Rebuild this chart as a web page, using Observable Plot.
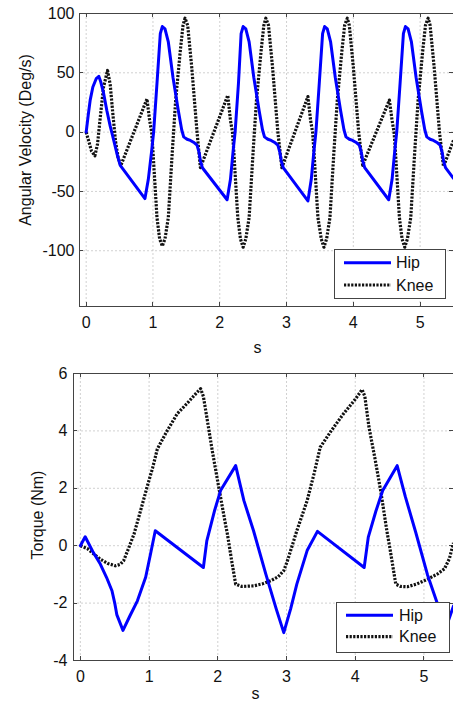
<!DOCTYPE html>
<html><head><meta charset="utf-8">
<script src="https://cdn.jsdelivr.net/npm/d3@7"></script>
<script src="https://cdn.jsdelivr.net/npm/@observablehq/plot@0.6"></script>
<style>
body{margin:0;background:#fff;}
#chart{width:453px;height:702px;font-family:"Liberation Sans",Arial,sans-serif;}
#chart svg{display:block;}
</style></head><body><div id="chart"></div>
<script>
// ---- Top panel: angular velocity (deg/s) ----
const hipVelT = [0,0.03,0.06,0.10,0.15,0.19,0.22,0.26,0.31,0.36,0.40,0.46,0.51,0.88,
0.93,0.98,1.01,1.06,1.11,1.14,1.18,1.23,1.30,1.38,1.43,1.46,1.51,1.56,1.62,1.66,1.69,1.71,1.74,2.11,
2.16,2.20,2.23,2.28,2.32,2.35,2.39,2.44,2.51,2.59,2.64,2.67,2.72,2.77,2.83,2.87,2.90,2.92,2.95,3.32,
3.37,3.41,3.44,3.49,3.54,3.57,3.61,3.66,3.73,3.81,3.86,3.89,3.94,3.99,4.05,4.09,4.12,4.14,4.17,4.53,
4.58,4.62,4.65,4.70,4.75,4.78,4.82,4.87,4.94,5.02,5.07,5.10,5.15,5.20,5.26,5.30,5.33,5.35,5.38,5.50];
const hipVelV = [0,14,27,38,45,47,42,33,18,5,-4,-18,-28,-56,
-40,-16,0,41,83,89,87,76,46,18,2,-4,-6,-7,-9,-11,-17,-24,-30,-57,
-40,-16,0,41,83,89,87,76,46,18,2,-4,-6,-7,-9,-11,-17,-24,-30,-58,
-40,-16,0,41,83,89,87,76,46,18,2,-4,-6,-7,-9,-11,-17,-24,-30,-57,
-40,-16,0,41,83,89,87,76,46,18,2,-4,-6,-7,-9,-11,-17,-24,-30,-39];
const kneeVelT = [0,0.04,0.08,0.13,0.17,0.21,0.26,0.32,0.36,0.40,0.44,0.48,0.52,0.91,
0.95,0.98,1.00,1.06,1.10,1.14,1.18,1.23,1.29,1.34,1.41,1.45,1.48,1.52,1.58,1.66,1.71,2.12,
2.16,2.19,2.21,2.27,2.31,2.35,2.39,2.44,2.50,2.55,2.62,2.66,2.69,2.73,2.79,2.87,2.93,3.32,
3.36,3.39,3.41,3.47,3.52,3.56,3.60,3.65,3.71,3.76,3.83,3.87,3.91,3.94,4.00,4.08,4.14,4.54,
4.58,4.61,4.63,4.69,4.73,4.77,4.81,4.86,4.92,4.97,5.04,5.08,5.12,5.15,5.21,5.29,5.35,5.50];
const kneeVelV = [0,-8,-16,-20,-10,12,38,52,40,15,-8,-22,-28,28,
10,0,-16,-72,-90,-96,-90,-72,-16,27,69,90,96,90,55,0,-30,31,
10,0,-16,-72,-90,-97,-90,-72,-16,27,69,90,96,90,55,0,-30,30,
10,0,-16,-72,-90,-97,-90,-72,-16,27,69,90,96,90,55,0,-28,27,
10,0,-16,-72,-90,-97,-90,-72,-16,27,69,90,96,90,55,0,-29,-7];

// ---- Bottom panel: torque (Nm) ----
const hipTqT = [0,0.07,0.18,0.29,0.38,0.46,0.50,0.53,0.62,0.72,0.83,0.95,1.02,1.09,1.79,1.84,1.95,2.04,2.26,2.38,
2.52,2.70,2.85,2.96,3.06,3.15,3.30,3.45,4.13,4.19,4.30,4.40,4.61,4.73,4.88,5.05,5.19,5.30,5.43];
const hipTqV = [0,0.31,-0.2,-0.64,-1.1,-1.57,-2.0,-2.4,-2.95,-2.45,-1.92,-1.1,-0.3,0.52,-0.76,0.17,1.2,1.92,2.79,1.57,
0.52,-1.0,-2.2,-3.03,-2.2,-1.34,-0.17,0.5,-0.76,0.3,1.2,1.92,2.79,1.7,0.47,-1.0,-1.98,-3.0,-2.1];
const kneeTqT = [0,0.10,0.20,0.29,0.40,0.51,0.58,0.63,0.70,0.78,0.85,0.92,0.97,1.05,1.12,1.25,1.41,1.55,1.70,1.75,
1.79,1.84,1.92,2.01,2.10,2.14,2.20,2.26,2.35,2.52,2.65,2.77,2.88,2.96,3.01,3.06,3.15,3.30,3.40,3.49,
3.65,3.83,4.00,4.10,4.14,4.20,4.29,4.37,4.46,4.51,4.59,4.66,4.76,4.90,5.05,5.20,5.30,5.37,5.43];
const kneeTqV = [0,-0.1,-0.3,-0.47,-0.62,-0.7,-0.65,-0.52,-0.1,0.4,1.0,1.6,2.04,2.7,3.37,3.95,4.6,4.95,5.35,5.47,
5.2,4.48,3.3,2.09,0.9,0.4,-0.5,-1.34,-1.42,-1.4,-1.33,-1.22,-1.08,-0.87,-0.55,-0.17,0.52,1.57,2.5,3.43,
4.0,4.6,5.1,5.44,5.2,4.13,3.0,1.92,0.52,-0.17,-1.34,-1.42,-1.43,-1.33,-1.17,-0.98,-0.8,-0.45,0.1];

const xTicks = [0,1,2,3,4,5];
const velTicks = [-100,-50,0,50,100];
const tqTicks = [-4,-2,0,2,4,6];
const seriesNames = ["Hip","Knee"];
const velLabel = "Angular Velocity (Deg/s)";
const tqLabel = "Torque (Nm)";
const xLabel = "s";

const HIP = {stroke:"#0000ff", strokeWidth:3};
const KNEE = {stroke:"#111", strokeWidth:3.2, strokeDasharray:"2.2,1.4"};
const FONT = '"Liberation Sans",Arial,sans-serif';

function pts(T, V) { return T.map((t, i) => ({t, v: V[i]})); }

function tickMarks(xt, yt) {
  return (index, {x, y}, values, dims) => {
    const g = d3.create("svg:g").attr("stroke", "#444").attr("stroke-width", 1);
    const x0 = dims.marginLeft, x1 = dims.width - dims.marginRight;
    const y0 = dims.marginTop, y1 = dims.height - dims.marginBottom;
    for (const t of xt) {
      const px = Math.round(x(t)) + 0.5;
      g.append("line").attr("x1", px).attr("x2", px).attr("y1", y1).attr("y2", y1 - 4);
      g.append("line").attr("x1", px).attr("x2", px).attr("y1", y0).attr("y2", y0 + 4);
    }
    for (const t of yt) {
      const py = Math.round(y(t)) + 0.5;
      g.append("line").attr("x1", x0).attr("x2", x0 + 4).attr("y1", py).attr("y2", py);
      g.append("line").attr("x1", x1).attr("x2", x1 - 4).attr("y1", py).attr("y2", py);
    }
    return g.node();
  };
}

function legendMark(lg) {
  return (index, scales, values, dims) => {
    const right = dims.width - dims.marginRight - lg.right;
    const bottom = dims.height - dims.marginBottom - lg.bottom;
    const left = right - lg.w, topY = bottom - lg.h;
    const g = d3.create("svg:g").attr("text-anchor", "start");
    g.append("rect").attr("x", left + 0.5).attr("y", topY + 0.5).attr("width", lg.w).attr("height", lg.h)
      .attr("fill", "white").attr("stroke", "#444").attr("stroke-width", 1);
    const styles = [HIP, KNEE];
    seriesNames.forEach((name, i) => {
      const yy = topY + lg.rows[i];
      const s = styles[i];
      g.append("line").attr("x1", left + 10).attr("x2", left + 57).attr("y1", yy).attr("y2", yy)
        .attr("stroke", s.stroke).attr("stroke-width", s.strokeWidth)
        .attr("stroke-dasharray", s.strokeDasharray || null);
      g.append("text").attr("x", left + lg.textX).attr("y", yy).attr("dy", "0.36em")
        .attr("text-anchor", "start")
        .attr("font-size", 16).attr("fill", "#111").attr("font-family", FONT).text(name);
    });
    return g.node();
  };
}

function panel(o) {
  return Plot.plot({
    width: 453, height: o.height,
    marginLeft: o.marginLeft, marginRight: 0, marginTop: o.marginTop, marginBottom: o.marginBottom,
    style: {fontFamily: FONT, fontSize: "16px", background: "white", color: "#111", overflow: "visible"},
    x: {domain: o.xDomain, label: null},
    y: {domain: o.yDomain, label: null},
    marks: [
      Plot.gridX(xTicks, {stroke: "#bdbdbd", strokeOpacity: 1, strokeWidth: 0.7, strokeDasharray: "2,2"}),
      Plot.gridY(o.yTicks, {stroke: "#bdbdbd", strokeOpacity: 1, strokeWidth: 0.7, strokeDasharray: "2,2"}),
      Plot.frame({stroke: "#444", strokeWidth: 1}),
      tickMarks(xTicks, o.yTicks),
      Plot.axisX(xTicks, {tickSize: 0, tickPadding: o.xPad, fontSize: 16, tickFormat: d => String(d), label: null}),
      Plot.axisY(o.yTicks, {tickSize: 0, tickPadding: o.yPad, fontSize: 16, tickFormat: d => String(d), label: null}),
      Plot.line(o.knee, {x: "t", y: "v", ...KNEE, strokeLinecap: "butt", strokeLinejoin: "round", clip: true}),
      Plot.line(o.hip, {x: "t", y: "v", ...HIP, strokeLinejoin: "round", clip: true}),
      legendMark(o.legend),
      Plot.text([o.ylabel], {frameAnchor: "left", rotate: -90, dx: o.ylabelDx, dy: o.ylabelDy, fontSize: 16, textAnchor: "middle", lineAnchor: "middle", fill: "#111"}),
      Plot.text([xLabel], {frameAnchor: "bottom", dx: o.xlabelDx, dy: o.xlabelDy, fontSize: 16, lineAnchor: "middle", fill: "#111"})
    ]
  });
}

const velPanel = panel({
  height: 360, marginLeft: 79, marginTop: 13, marginBottom: 54,
  xDomain: [-0.1, 5.5], yDomain: [-147, 100], yTicks: velTicks,
  hip: pts(hipVelT, hipVelV), knee: pts(kneeVelT, kneeVelV),
  xPad: 10, yPad: 5,
  ylabel: velLabel, ylabelDx: -54, ylabelDy: -20,
  xlabelDx: -9, xlabelDy: 41,
  legend: {right: 8, bottom: 8, w: 111, h: 49, rows: [13.7, 36], textX: 62}
});
const tqPanel = panel({
  height: 342, marginLeft: 73, marginTop: 13, marginBottom: 42,
  xDomain: [-0.1, 5.43], yDomain: [-4, 6], yTicks: tqTicks,
  hip: pts(hipTqT, hipTqV), knee: pts(kneeTqT, kneeTqV),
  xPad: 10, yPad: 6,
  ylabel: tqLabel, ylabelDx: -36, ylabelDy: -2,
  xlabelDx: -8, xlabelDy: 33,
  legend: {right: 4, bottom: 8, w: 113, h: 50, rows: [13.3, 34.6], textX: 63}
});
const root = document.getElementById("chart");
root.appendChild(velPanel);
root.appendChild(tqPanel);
</script></body></html>
